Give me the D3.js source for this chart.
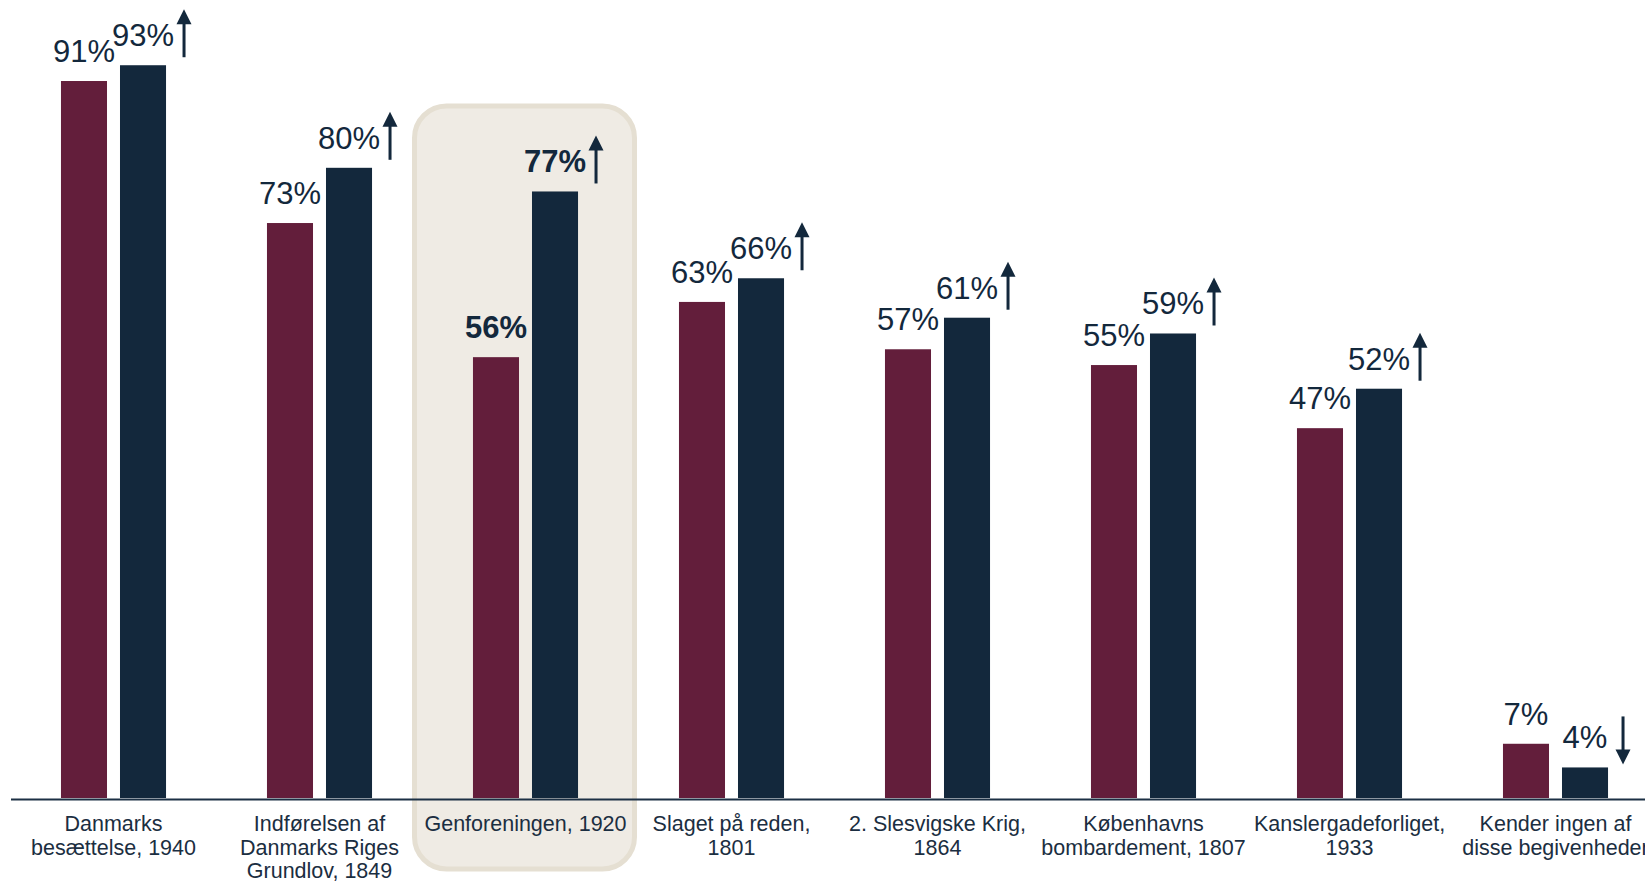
<!DOCTYPE html>
<html>
<head>
<meta charset="utf-8">
<script src="https://cdn.jsdelivr.net/npm/d3@7/dist/d3.min.js"></script>
<style>
  html, body { margin: 0; padding: 0; background: #ffffff; }
  svg { display: block; }
  text { font-family: Arial, "Liberation Sans", sans-serif; }
</style>
</head>
<body>
<svg id="chart" width="1645" height="882"></svg>
<script>
// ---- Data ----
const categories = [
  "Danmarks besættelse, 1940",
  "Indførelsen af Danmarks Riges Grundlov, 1849",
  "Genforeningen, 1920",
  "Slaget på reden, 1801",
  "2. Slesvigske Krig, 1864",
  "Københavns bombardement, 1807",
  "Kanslergadeforliget, 1933",
  "Kender ingen af disse begivenheder"
];
const categoryLines = [
  ["Danmarks", "besættelse, 1940"],
  ["Indførelsen af", "Danmarks Riges", "Grundlov, 1849"],
  ["Genforeningen, 1920"],
  ["Slaget på reden,", "1801"],
  ["2. Slesvigske Krig,", "1864"],
  ["Københavns", "bombardement, 1807"],
  ["Kanslergadeforliget,", "1933"],
  ["Kender ingen af", "disse begivenheder"]
];
const seriesNames = ["Før", "Nu"];
const seriesBefore = [91, 73, 56, 63, 57, 55, 47, 7];
const seriesNow    = [93, 80, 77, 66, 61, 59, 52, 4];
const changeDirection = ["up", "up", "up", "up", "up", "up", "up", "down"];
const highlighted = "Genforeningen, 1920";

// ---- Styles ----
const colors = { [seriesNames[0]]: "#631e3b", [seriesNames[1]]: "#13283c" };
const textColor = "#13283c";

const svg = d3.select("#chart");

const x0 = d3.scaleBand()
  .domain(categories)
  .range([10.5, 1658.5])
  .paddingInner(0.49)
  .paddingOuter(0.245);

const x1 = d3.scaleBand()
  .domain(seriesNames)
  .range([0, x0.bandwidth()])
  .paddingInner(0.22);

const y = d3.scaleLinear().domain([0, 100]).range([799, 10]);

const rows = categories.map((c, i) => ({
  cat: c,
  lines: categoryLines[i],
  values: [
    { s: seriesNames[0], v: seriesBefore[i] },
    { s: seriesNames[1], v: seriesNow[i] }
  ],
  dir: changeDirection[i],
  bold: c === highlighted
}));

// ---- Highlight box ----
const hc = x0(highlighted) + x0.bandwidth() / 2;
svg.append("rect")
  .attr("x", hc - 111)
  .attr("y", 106)
  .attr("width", 220)
  .attr("height", 763)
  .attr("rx", 32)
  .attr("ry", 32)
  .attr("fill", "#efebe4")
  .attr("stroke", "#e5dfd2")
  .attr("stroke-width", 5);

// ---- Axis ----
const axis = svg.append("g")
  .attr("transform", `translate(0,${y(0)})`)
  .call(d3.axisBottom(x0).tickSize(0).tickSizeOuter(0).tickFormat(""));
axis.select(".domain").attr("stroke", "#1c3044").attr("stroke-width", 2);

axis.selectAll(".tick").each(function(d, i) {
  const t = d3.select(this).select("text")
    .attr("y", 0)
    .attr("dy", null)
    .attr("fill", "#1b2e41")
    .style("font-size", "21.5px")
    .attr("text-anchor", "middle");
  t.selectAll("tspan")
    .data(categoryLines[i])
    .join("tspan")
    .attr("x", 0)
    .attr("y", (l, j) => 32 + j * 23.5)
    .text(l => l);
});

// ---- Bars ----
const groups = svg.append("g").selectAll("g")
  .data(rows)
  .join("g")
  .attr("transform", d => `translate(${x0(d.cat)},0)`);

groups.selectAll("rect")
  .data(d => d.values)
  .join("rect")
  .attr("x", d => x1(d.s))
  .attr("y", d => y(d.v))
  .attr("width", x1.bandwidth())
  .attr("height", d => y(0) - y(d.v) - 1)
  .attr("fill", d => colors[d.s]);

// ---- Value labels ----
groups.each(function(row) {
  const g = d3.select(this);
  g.selectAll("text.val")
    .data(row.values)
    .join("text")
    .attr("class", "val")
    .attr("x", d => x1(d.s) + x1.bandwidth() / 2)
    .attr("y", d => y(d.v) - 19)
    .attr("text-anchor", "middle")
    .attr("fill", textColor)
    .style("font-size", "31px")
    .style("font-weight", row.bold ? "bold" : "normal")
    .text(d => d.v + "%");
});

// ---- Change arrows ----
groups.each(function(row) {
  const g = d3.select(this);
  const top = y(row.values[1].v);
  const right = x1(seriesNames[1]) + x1.bandwidth();
  const head = 15, hw = 7.5;
  if (row.dir === "up") {
    const ax = right + 18;
    const y1 = top - 8, y2 = top - 56;
    g.append("line")
      .attr("x1", ax).attr("x2", ax)
      .attr("y1", y1).attr("y2", y2 + head - 1)
      .attr("stroke", textColor).attr("stroke-width", 3);
    g.append("path")
      .attr("d", `M${ax - hw},${y2 + head} L${ax + hw},${y2 + head} L${ax},${y2} Z`)
      .attr("fill", textColor);
  } else {
    const ax = right + 15;
    const y1 = top - 51, y2 = top - 3;
    g.append("line")
      .attr("x1", ax).attr("x2", ax)
      .attr("y1", y1).attr("y2", y2 - head + 1)
      .attr("stroke", textColor).attr("stroke-width", 3);
    g.append("path")
      .attr("d", `M${ax - hw},${y2 - head} L${ax + hw},${y2 - head} L${ax},${y2} Z`)
      .attr("fill", textColor);
  }
});
</script>
</body>
</html>
